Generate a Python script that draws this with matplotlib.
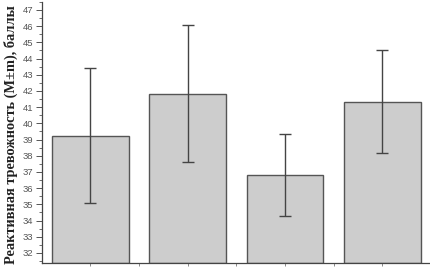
import numpy as np
import matplotlib
matplotlib.use("Agg")
import matplotlib.pyplot as plt
from matplotlib.ticker import MultipleLocator

# group means and standard errors (M±m)
groups = [1, 2, 3, 4]
means = [39.2, 41.8, 36.8, 41.3]
err_lo = [4.1, 4.2, 2.5, 3.15]
err_hi = [4.2, 4.25, 2.55, 3.2]
ylabel = "Реактивная тревожность (M±m), баллы"

fig = plt.figure(figsize=(4.31, 2.70), dpi=100)
ax = fig.add_axes([0.097, 0.027, 0.903, 0.966])

base = 31.4
ax.bar(groups, np.array(means) - base, bottom=base, width=0.79,
       color="#cdcdcd", edgecolor="#555555", linewidth=1.0, zorder=2)
ax.errorbar(groups, means, yerr=[err_lo, err_hi], fmt="none",
            ecolor="#444444", elinewidth=1.0, capsize=4, capthick=1.0, zorder=3)

ax.set_xlim(0.5, 4.5)
ax.set_ylim(base, 47.5)
ax.yaxis.set_major_locator(MultipleLocator(1))
ax.yaxis.set_minor_locator(MultipleLocator(0.5))
ax.set_xticks(groups)
ax.set_xticks([1.5, 2.5, 3.5, 4.5], minor=True)
ax.set_xticklabels([])
ax.set_yticks(range(32, 48))
ax.set_yticklabels([str(v) for v in range(32, 48)], fontsize=6.8,
                   color="#555555", family="Liberation Sans")

for s in ("top", "right"):
    ax.spines[s].set_visible(False)
for s in ("left", "bottom"):
    ax.spines[s].set_color("#444444")
    ax.spines[s].set_linewidth(0.9)
ax.tick_params(axis="y", which="major", length=4, width=0.7, color="#555555", pad=2)
ax.tick_params(axis="y", which="minor", length=2, width=0.6, color="#555555")
ax.tick_params(axis="x", which="both", length=2, width=0.6, color="#777777")

fig.text(0.025, 0.5, ylabel, rotation=90, ha="center", va="center",
         fontsize=10.4, fontweight="bold", family="Liberation Serif", color="#222222")

fig.savefig("out.png", dpi=100)
